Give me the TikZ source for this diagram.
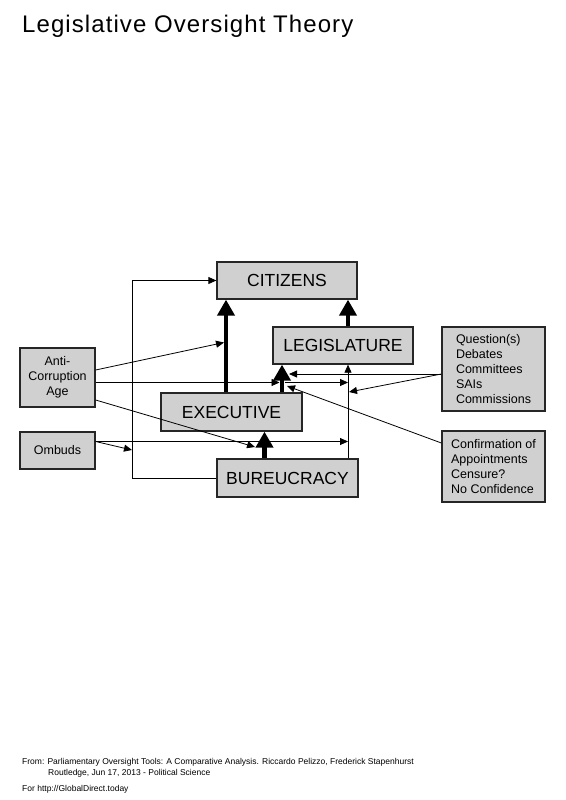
\documentclass[tikz,border=0pt]{standalone}
\usepackage{fontspec}
\setmainfont{Liberation Sans}
\usetikzlibrary{arrows.meta}
\definecolor{boxgray}{RGB}{208,208,208}
\tikzstyle{box}=[draw=black!85,line width=1.3pt,fill=boxgray,inner sep=0pt,align=center]
\tikzstyle{big}=[box,minimum width=140pt,minimum height=37pt,font=\fontsize{17.5}{20}\selectfont]
\tikzstyle{small}=[box,font=\fontsize{12.5}{15}\selectfont]
\tikzstyle{thin}=[line width=0.8pt,-{Triangle[length=8pt,width=7pt]}]
\tikzstyle{fat}=[line width=4.5pt,-{Triangle[length=16pt,width=17pt]}]
\tikzstyle{caption}=[anchor=base west,inner sep=0pt]

\begin{document}
\begin{tikzpicture}[x=1pt,y=-1pt]
\useasboundingbox (0,0) rectangle (565,800);

% Title
\node[caption,font=\fontsize{24}{30}\selectfont\addfontfeature{LetterSpace=4.5}] (title) at (22,33) {Legislative Oversight Theory};

% Nodes
\node[big]                                     (citizens)        at (287,280.5)   {CITIZENS};
\node[big]                                     (legislature)     at (343,345.5)   {LEGISLATURE};
\node[big,minimum width=141pt,minimum height=38pt] (executive)   at (231.5,412)   {EXECUTIVE};
\node[big,minimum width=141pt,minimum height=38pt] (bureaucracy) at (287.5,478)   {BUREUCRACY};
\node[small,minimum width=75pt,minimum height=59pt] (anti corruption) at (57.5,377.5) {Anti-\\Corruption\\Age};
\node[small,minimum width=75pt,minimum height=37pt] (ombuds)      at (57.5,450.5)  {Ombuds};
\node[small,align=left,minimum width=103pt,minimum height=84pt] (questions) at (493.5,369) {Question(s)\\Debates\\Committees\\SAIs\\Commissions};
\node[small,align=left,minimum width=103pt,minimum height=71pt] (confirmation) at (493.5,466.5) {Confirmation of\\Appointments\\Censure?\\No Confidence};

% Columns and end points
\coordinate (col exec)      at (226,0);
\coordinate (col leg)       at (282,0);
\coordinate (col bur)       at (264.5,0);
\coordinate (rail)          at (348,0);
\coordinate (hit exec)      at (224,342.5);
\coordinate (hit leg)       at (279.5,382.5);
\coordinate (leg right)     at (284.5,382.5);
\coordinate (hit bur)       at (255,447);
\coordinate (hit head)      at (289,374);
\coordinate (hit rail)      at (349,392);
\coordinate (hit conf)      at (287,386);
\coordinate (hit loop)      at (132,450);
\coordinate (ombuds out)    at ([yshift=9pt]ombuds.east);
\coordinate (questions out) at ([yshift=-5pt]questions.west);

% Edges
\draw[fat] (executive.north -| col exec)  -- (citizens.south -| col exec);
\draw[fat] (legislature.north -| rail)    -- (citizens.south -| rail);
\draw[fat] (executive.north -| col leg)   -- (legislature.south -| col leg);
\draw[fat] (bureaucracy.north -| col bur) -- (executive.south -| col bur);

\draw[thin] (bureaucracy.west) -- ++(-84,0) |- (citizens.west);
\draw[thin] (bureaucracy.north -| rail) -- (legislature.south -| rail);
\draw[thin] ([yshift=7.5pt]anti corruption.east) -- (hit exec);
\draw[thin] (anti corruption.east |- hit leg) -- (hit leg);
\draw[thin] (leg right) -- (leg right -| rail);
\draw[thin] ([yshift=-22.5pt]anti corruption.east) -- (hit bur);
\draw[thin] (ombuds out) -- (hit loop);
\draw[thin] (ombuds out) -- (ombuds out -| rail);
\draw[thin] (questions out) -- (hit head);
\draw[thin] (questions out) -- (hit rail);
\draw[thin] ([yshift=23.5pt]confirmation.west) -- (hit conf);

% Footer
\node[caption,font=\fontsize{8.5}{10}\selectfont] (source)    at (22,764) {From: Parliamentary Oversight Tools: A Comparative Analysis. Riccardo Pelizzo, Frederick Stapenhurst};
\node[caption,font=\fontsize{8.5}{10}\selectfont] (publisher) at (48,775) {Routledge, Jun 17, 2013 - Political Science};
\node[caption,font=\fontsize{8.5}{10}\selectfont] (site)      at (22,791) {For http://GlobalDirect.today};

\end{tikzpicture}
\end{document}
